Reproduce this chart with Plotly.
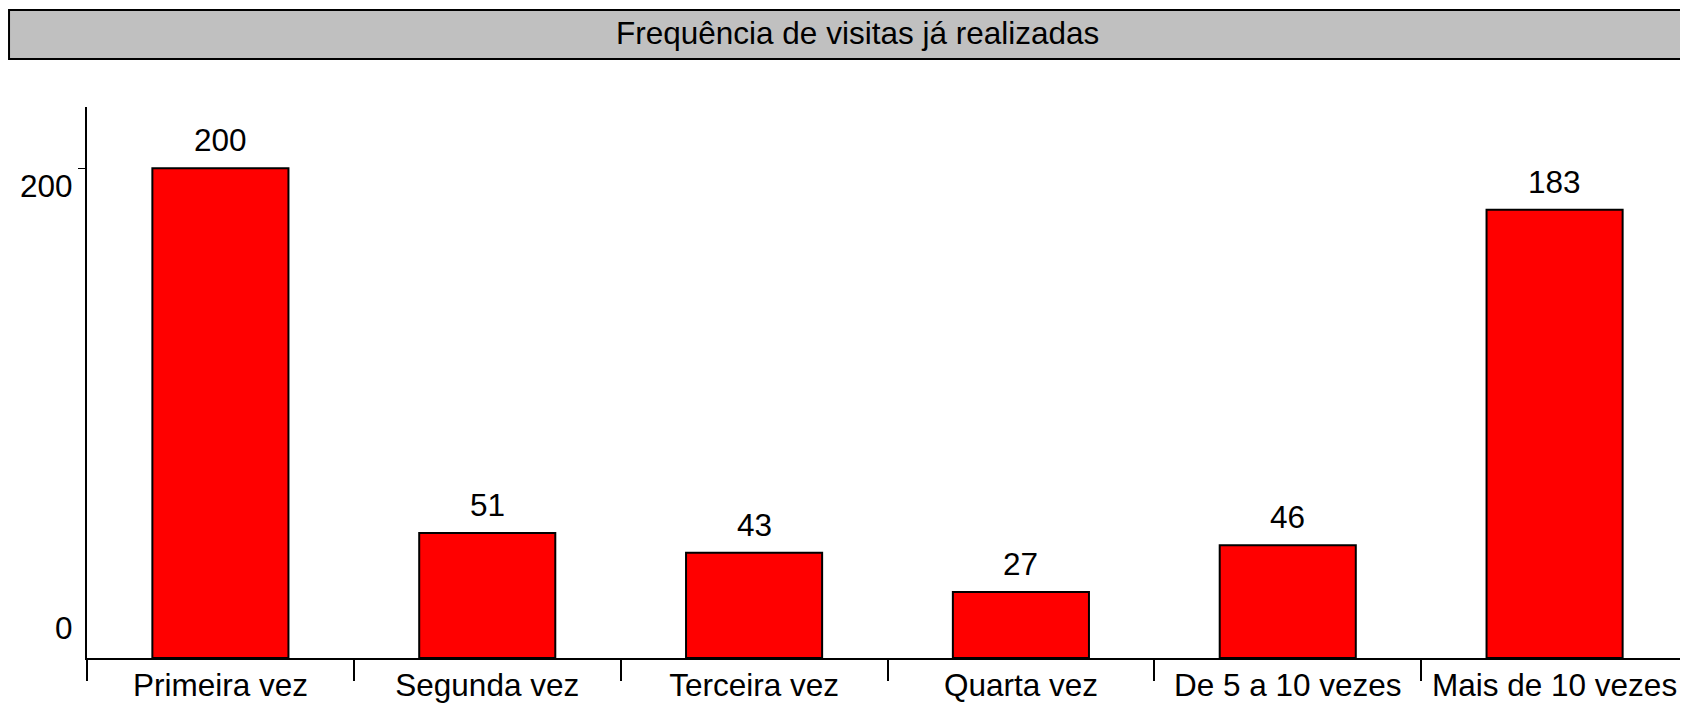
import plotly.graph_objects as go

# Dados
categorias = ["Primeira vez", "Segunda vez", "Terceira vez", "Quarta vez",
              "De 5 a 10 vezes", "Mais de 10 vezes"]
valores = [200, 51, 43, 27, 46, 183]
titulo = "Frequência de visitas já realizadas"
ticks_y = [200, 0]

fonte = "Liberation Sans, Arial, sans-serif"
tam = 31.5

fig = go.Figure()
fig.add_trace(go.Bar(
    x=categorias, y=valores, width=0.51,
    marker=dict(color="#FF0000", line=dict(color="black", width=2)),
    hoverinfo="x+y",
))

# rótulos dos valores acima das barras
for c, v in zip(categorias, valores):
    fig.add_annotation(x=c, y=v, text=str(v), showarrow=False,
                       yanchor="bottom", yshift=8,
                       font=dict(size=tam, color="black", family=fonte))

# rótulos do eixo y (deslocados como no original)
for v, dy in zip(ticks_y, [-18, 30]):
    fig.add_annotation(x=0, xref="paper", y=v, yref="y", text=str(v),
                       showarrow=False, xanchor="right", xshift=-12, yshift=dy,
                       font=dict(size=tam, color="black", family=fonte))

# caixa do título
fig.add_shape(type="rect", xref="paper", yref="paper",
              x0=-0.0487, x1=1.01, y0=1.087, y1=1.176,
              fillcolor="#C0C0C0", line=dict(color="black", width=2), layer="below")
fig.add_annotation(x=0.481, y=1.134, xref="paper", yref="paper", text=titulo,
                   showarrow=False, xanchor="center", yanchor="middle",
                   font=dict(size=tam, color="black", family=fonte))

fig.update_layout(
    width=1680, height=696,
    margin=dict(l=79, r=0, t=99, b=46),
    plot_bgcolor="white", paper_bgcolor="white",
    showlegend=False,
    font=dict(family=fonte, size=tam, color="black"),
    bargap=0.49,
)
fig.update_xaxes(
    range=[-0.5, 5.5], showline=True, linecolor="black", linewidth=2,
    ticks="outside", tickson="boundaries", ticklen=21, tickwidth=2, tickcolor="black",
    ticklabelstandoff=-2, tickfont=dict(size=tam, family=fonte, color="black"),
    showgrid=False, zeroline=False,
)
fig.update_yaxes(
    range=[0, 225], showline=True, linecolor="black", linewidth=2,
    tickvals=[200], ticks="outside", ticklen=7, tickwidth=1, tickcolor="black",
    showticklabels=False, showgrid=False, zeroline=False,
)

fig.write_html("out.html")
